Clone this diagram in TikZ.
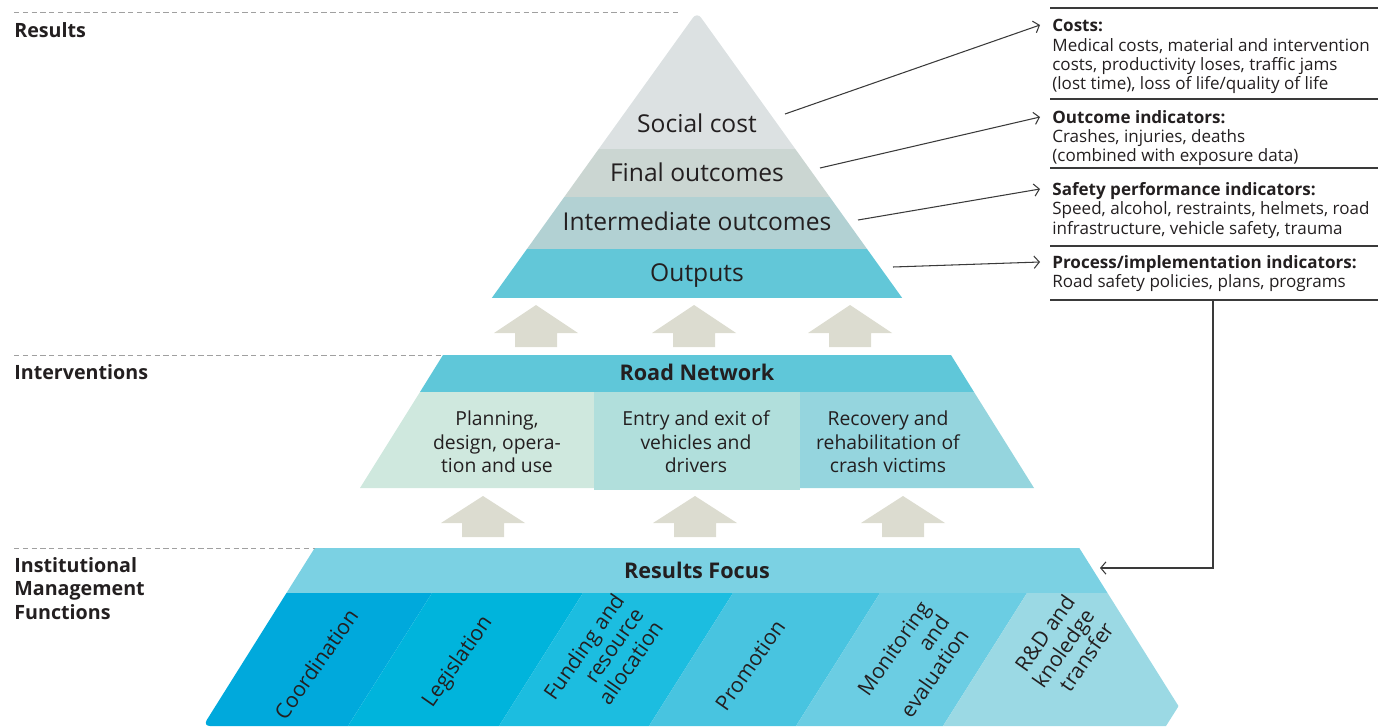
\documentclass[tikz,border=0pt]{standalone}
\usepackage{fontspec}
\setmainfont{Open Sans}
\usetikzlibrary{calc,positioning,arrows.meta}

\definecolor{txt}{HTML}{231F20}
\definecolor{rulegray}{HTML}{3A3A3A}
\definecolor{guidegray}{HTML}{A0A0A0}
\definecolor{social}{HTML}{DCE1E2}
\definecolor{final}{HTML}{CBD6D2}
\definecolor{inter}{HTML}{B2D1D3}
\definecolor{outp}{HTML}{62C7D8}
\definecolor{blockarrow}{HTML}{DCDCD0}
\definecolor{network}{HTML}{5FC7D9}
\definecolor{cellA}{HTML}{CFE8DE}
\definecolor{cellB}{HTML}{B1DFDC}
\definecolor{cellC}{HTML}{95D5DE}
\definecolor{focus}{HTML}{7BD1E3}
\definecolor{colA}{HTML}{00A9DC}
\definecolor{colB}{HTML}{00B4DC}
\definecolor{colC}{HTML}{1CBDE0}
\definecolor{colD}{HTML}{48C4E0}
\definecolor{colE}{HTML}{6BCDE3}
\definecolor{colF}{HTML}{9BD9E4}

\begin{document}
\begin{tikzpicture}[x=0.02cm, y=-0.02cm, every node/.style={text=txt, inner sep=0pt},
  side/.style={anchor=north west, align=left, font=\fontsize{11.2}{13.3}\selectfont\bfseries},
  level/.style={text height=10pt, text depth=0pt, font=\fontsize{14}{16}\selectfont},
  band/.style={text height=8.9pt, text depth=0pt, font=\fontsize{12.3}{14}\selectfont\bfseries},
  cell/.style={align=center, font=\fontsize{11}{13.3}\selectfont},
  func/.style={align=right, rotate=55, font=\fontsize{12}{13.5}\selectfont},
  info/.style={anchor=north west, align=left, font=\fontsize{9.7}{11}\selectfont},
  guide/.style={draw=guidegray, dash pattern=on 3pt off 2pt, line width=0.5pt},
  sep/.style={draw=rulegray, line width=0.6pt},
  pt/.style={draw=rulegray, line width=0.6pt, -{Straight Barb[length=3pt,width=7pt]}}]
  \useasboundingbox (0,0) rectangle (1386,727);

  % results pyramid
  \begin{scope}
    \clip[rounded corners=4pt] (697,12) -- (918,320) -- (476,320) -- cycle;
    \fill[fill=social] (450,0) rectangle (950,149);
    \fill[fill=final] (450,149) rectangle (950,197);
    \fill[fill=inter] (450,197) rectangle (950,249);
    \fill[fill=outp] (450,249) rectangle (950,298);
  \end{scope}
  \node[level] (social) at (697,124) {Social cost};
  \node[level] (final) at (697,172.5) {Final outcomes};
  \node[level] (inter) at (697,222) {Intermediate outcomes};
  \node[level] (outputs) at (697,272.5) {Outputs};

  % up arrows
  \foreach \x in {536,694,850}
    \fill[fill=blockarrow] (\x,305) -- ++(42,28) -- ++(-21,0) -- ++(0,14) -- ++(-42,0) -- ++(0,-14) -- ++(-21,0) -- cycle;
  \foreach \x in {483,695,903}
    \fill[fill=blockarrow] (\x,496) -- ++(42,27) -- ++(-21,0) -- ++(0,14) -- ++(-42,0) -- ++(0,-14) -- ++(-21,0) -- cycle;

  % road network
  \fill[fill=network] (443,355) -- (951,355) -- (974,392) -- (420,392) -- cycle;
  \fill[fill=cellA] (420,392) -- (594,392) -- (594,488) -- (360,488) -- cycle;
  \fill[fill=cellB] (594,392) rectangle (800,490);
  \fill[fill=cellC] (800,392) -- (974,392) -- (1034,488) -- (800,488) -- cycle;
  \node[band] (network) at (697,373) {Road Network};
  \node[cell] (plan) at (497,442) {Planning,\\design, opera-\\tion and use};
  \node[cell] (entry) at (696,442) {Entry and exit of\\vehicles and\\drivers};
  \node[cell] (recov) at (888,442) {Recovery and\\rehabilitation of\\crash victims};

  % management functions
  \begin{scope}
    \clip[rounded corners=4pt] (326,530) -- (1068,530) -- (1191,726) -- (203,726) -- cycle;
    \fill[fill=focus] (150,548) rectangle (1250,593);
    \fill[fill=colA] (150,593) -- (432,593) -- ++(-84,133) -- ++(-282,0) -- cycle;
    \fill[fill=colB] (432,593) -- (583,593) -- ++(-84,133) -- ++(-151,0) -- cycle;
    \fill[fill=colC] (583,593) -- (733,593) -- ++(-84,133) -- ++(-150,0) -- cycle;
    \fill[fill=colD] (733,593) -- (880,593) -- ++(-84,133) -- ++(-147,0) -- cycle;
    \fill[fill=colE] (880,593) -- (1027,593) -- ++(-84,133) -- ++(-147,0) -- cycle;
    \fill[fill=colF] (1027,593) -- (1250,593) -- ++(-84,133) -- ++(-223,0) -- cycle;
  \end{scope}
  \node[band] (focus) at (697,571) {Results Focus};
  \node[func] (coord) at (316,664) {Coordination};
  \node[func] (legis) at (458,662) {Legislation};
  \node[func] (fund) at (603,660) {Funding and\\resource\\allocation};
  \node[func] (promo) at (750,665) {Promotion};
  \node[func] (monit) at (913,662) {Monitoring\\and\\evaluation};
  \node[func] (rnd) at (1063,648) {R\&D and\\knoledge\\transfer};

  % side labels
  \draw[guide] (14,12) -- (680,12);
  \draw[guide] (14,355) -- (443,355);
  \draw[guide] (14,548) -- (315,548);
  \node[side] (results) at (14,22) {Results};
  \node[side] (interv) at (14,364) {Interventions};
  \node[side] (inst) at (14,557) {Institutional\\Management\\Functions};

  % indicators
  \draw[sep] (1050,8) -- (1378,8);
  \draw[sep] (1050,99) -- (1378,99);
  \draw[sep] (1050,168) -- (1378,168);
  \draw[sep] (1050,246) -- (1378,246);
  \draw[sep] (1050,300) -- (1378,300);
  \node[info] (costs) at (1052,19) {\textbf{Costs:}\\Medical costs, material and intervention\\costs, productivity loses, traffic jams\\(lost time), loss of life/quality of life};
  \node[info] (outcome) at (1052,110) {\textbf{Outcome indicators:}\\Crashes, injuries, deaths\\(combined with exposure data)};
  \node[info] (safety) at (1052,182) {\textbf{Safety performance indicators:}\\Speed, alcohol, restraints, helmets, road\\infrastructure, vehicle safety, trauma};
  \node[info] (process) at (1052,255) {\textbf{Process/implementation indicators:}\\Road safety policies, plans, programs};

  \coordinate (socialend) at (785,114);
  \coordinate (finalend) at (820,168);
  \coordinate (interend) at (858,220);
  \coordinate (outputsend) at (893,267);
  \coordinate (procfoot) at (1213,300);
  \coordinate (focusin) at (1100,568);
  \draw[pt] (socialend) -- ([shift={(-12,6)}]costs.north west);
  \draw[pt] (finalend) -- ([shift={(-12,7)}]outcome.north west);
  \draw[pt] (interend) -- ([shift={(-12,7)}]safety.north west);
  \draw[pt] (outputsend) -- ([shift={(-12,7)}]process.north west);
  \draw[pt] (procfoot) |- (focusin);
\end{tikzpicture}
\end{document}
